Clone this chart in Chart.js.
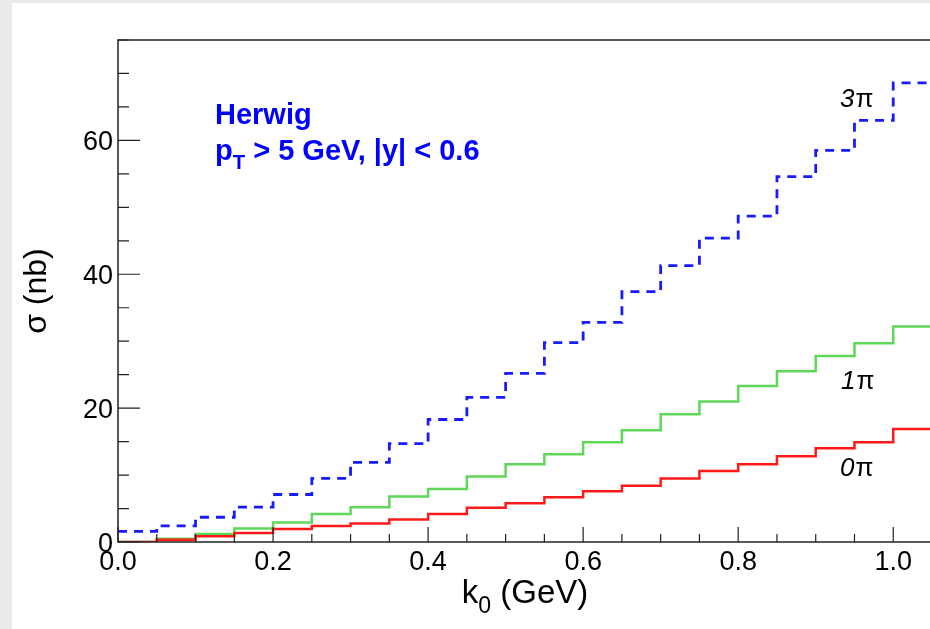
<!DOCTYPE html>
<html>
<head>
<meta charset="utf-8">
<script src="https://cdn.jsdelivr.net/npm/chart.js@4.4.0/dist/chart.umd.min.js"></script>
<style>
  html, body { margin: 0; padding: 0; background: #fff; overflow: hidden; width: 930px; height: 629px; }
  #wrap { position: absolute; left: 0; top: 0; width: 960px; height: 629px; }
  .edge { position: absolute; background: #ebebeb; }
</style>
</head>
<body>
<div id="wrap"><canvas id="chart" width="960" height="629"></canvas></div>
<div class="edge" style="left:0;top:0;width:12px;height:629px"></div>
<div class="edge" style="left:0;top:0;width:930px;height:3px"></div>
<script>
// bin edges of k0 (GeV), 0.05 wide
const binEdges = [0, 0.05, 0.1, 0.15, 0.2, 0.25, 0.3, 0.35, 0.4, 0.45, 0.5,
                  0.55, 0.6, 0.65, 0.7, 0.75, 0.8, 0.85, 0.9, 0.95, 1.0, 1.05];

// sigma (nb) per bin
const sigma3pi = [1.6, 2.4, 3.7, 5.2, 7.1, 9.5, 11.9, 14.7, 18.3, 21.6, 25.2,
                  29.8, 32.8, 37.4, 41.3, 45.4, 48.7, 54.6, 58.5, 63.0, 68.6];
const sigma1pi = [0, 0.5, 1.2, 2.0, 2.9, 4.2, 5.2, 6.8, 7.9, 9.8, 11.6,
                  13.1, 14.9, 16.7, 19.1, 21.0, 23.3, 25.5, 27.8, 29.7, 32.2];
const sigma0pi = [0, 0.35, 0.85, 1.35, 1.95, 2.4, 2.75, 3.35, 4.2, 5.1, 5.8,
                  6.7, 7.6, 8.4, 9.5, 10.6, 11.6, 12.8, 14.0, 14.9, 16.9];

const xTickValues = [0, 0.2, 0.4, 0.6, 0.8, 1.0];
const xTickLabels = ['0.0', '0.2', '0.4', '0.6', '0.8', '1.0'];
const yTickValues = [0, 20, 40, 60];
const yTickLabels = ['0', '20', '40', '60'];

const FONT = '"Liberation Sans", Arial, Helvetica, sans-serif';

// histogram as step line: each bin value held until the next edge
function histPoints(vals){
  const pts = vals.map((v, i) => ({x: binEdges[i], y: v}));
  pts.push({x: binEdges[vals.length], y: vals[vals.length - 1]});
  return pts;
}

// text with a lowered subscript part
function subText(ctx, x, y, base, sub, rest, size, weight, align){
  const f = (s) => `${weight} ${s}px ${FONT}`;
  ctx.font = f(size);
  const w1 = ctx.measureText(base).width;
  ctx.font = f(size * 0.7);
  const w2 = ctx.measureText(sub).width;
  ctx.font = f(size);
  const w3 = ctx.measureText(rest).width;
  let x0 = x;
  if(align === 'center') x0 = x - (w1 + w2 + w3) / 2;
  ctx.textAlign = 'left';
  ctx.font = f(size);
  ctx.fillText(base, x0, y);
  ctx.font = f(size * 0.7);
  ctx.fillText(sub, x0 + w1, y + size * 0.3);
  ctx.font = f(size);
  ctx.fillText(rest, x0 + w1 + w2, y);
}

const rootFrame = {
  id: 'rootFrame',
  afterDatasetsDraw(c){
    const ctx = c.ctx;
    const {left, right, top, bottom} = c.chartArea;
    const xs = c.scales.x, ys = c.scales.y;
    ctx.save();

    // frame
    ctx.strokeStyle = '#222';
    ctx.lineWidth = 1.5;
    ctx.strokeRect(left, top, right - left, bottom - top);

    // ticks drawn inward, ROOT style
    ctx.lineWidth = 1.2;
    ctx.beginPath();
    for(let v = 0; v <= xs.max + 1e-9; v += 0.05){
      const px = xs.getPixelForValue(v);
      const major = Math.abs(v / 0.2 - Math.round(v / 0.2)) < 1e-6;
      ctx.moveTo(px, bottom);
      ctx.lineTo(px, bottom - (major ? 15 : 8));
    }
    for(let v = 0; v <= ys.max + 1e-9; v += 5){
      const py = ys.getPixelForValue(v);
      const major = v % 20 === 0;
      ctx.moveTo(left, py);
      ctx.lineTo(left + (major ? 22 : 11), py);
    }
    ctx.stroke();

    // tick labels
    ctx.fillStyle = '#000';
    ctx.font = `27px ${FONT}`;
    ctx.textAlign = 'center';
    ctx.textBaseline = 'alphabetic';
    xTickValues.forEach((v, i) => {
      ctx.fillText(xTickLabels[i], xs.getPixelForValue(v), 570);
    });
    ctx.textAlign = 'right';
    yTickValues.forEach((v, i) => {
      ctx.fillText(yTickLabels[i], 113, ys.getPixelForValue(v) + 9.5);
    });

    // axis titles
    subText(ctx, (left + right) / 2, 603, 'k', '0', ' (GeV)', 33, 'normal', 'center');
    ctx.save();
    ctx.translate(46, (top + bottom) / 2);
    ctx.rotate(-Math.PI / 2);
    ctx.textAlign = 'center';
    ctx.font = `32px ${FONT}`;
    ctx.fillText('σ (nb)', 0, 0);
    ctx.restore();

    // generator / cuts
    ctx.fillStyle = '#0000ff';
    ctx.textAlign = 'left';
    ctx.font = `bold 29px ${FONT}`;
    ctx.fillText('Herwig', 215, 124);
    subText(ctx, 215, 160, 'p', 'T', ' > 5 GeV, |y| < 0.6', 29, 'bold', 'left');

    // curve labels
    ctx.fillStyle = '#000';
    const tag = (n, x, y) => {
      ctx.textAlign = 'left';
      ctx.font = `italic 26px ${FONT}`;
      ctx.fillText(n, x, y);
      const w = ctx.measureText(n).width;
      ctx.font = `26px ${FONT}`;
      ctx.fillText('π', x + w + 1, y);
    };
    tag('3', 840, 107);
    tag('1', 841, 389);
    tag('0', 840, 476);

    ctx.restore();
  }
};

new Chart(document.getElementById('chart'), {
  type: 'line',
  data: {
    datasets: [
      { label: '0π', data: histPoints(sigma0pi), borderColor: '#ff1a1a', borderWidth: 2.5 },
      { label: '1π', data: histPoints(sigma1pi), borderColor: '#5fd85a', borderWidth: 2.5 },
      { label: '3π', data: histPoints(sigma3pi), borderColor: '#1a1aff', borderWidth: 2.8, borderDash: [9, 7] }
    ].map(d => Object.assign(d, { stepped: 'before', pointRadius: 0, fill: false, tension: 0 }))
  },
  options: {
    responsive: false,
    animation: false,
    layout: { padding: { left: 118, top: 40, right: 28, bottom: 87 } },
    plugins: { legend: { display: false }, tooltip: { enabled: false } },
    scales: {
      x: { type: 'linear', min: 0, max: 1.05, display: false },
      y: { type: 'linear', min: 0, max: 75, display: false }
    }
  },
  plugins: [rootFrame]
});
</script>
</body>
</html>
